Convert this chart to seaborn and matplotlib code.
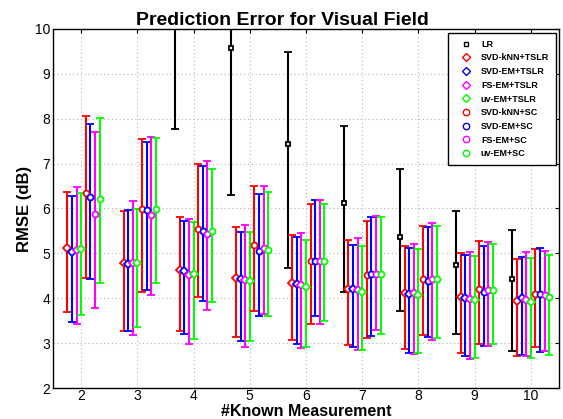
import matplotlib.pyplot as plt
import numpy as np
import seaborn as sns
from matplotlib.lines import Line2D

# x axis: number of known measurements
known = [2, 3, 4, 5, 6, 7, 8, 9, 10]

# LR is off the top of the chart for 2 and 3 known measurements
lr_known = [4, 5, 6, 7, 8, 9, 10]
lr_mean = [11.0, 9.57, 7.43, 6.12, 5.36, 4.73, 4.43]
lr_low = [7.77, 6.31, 4.67, 4.14, 3.72, 3.21, 2.82]
lr_high = [14.2, 12.8, 9.48, 7.83, 6.89, 5.95, 5.52]

svd_knn_tslr_mean = [5.13, 4.78, 4.64, 4.46, 4.34, 4.20, 4.12, 4.02, 3.93]
svd_knn_tslr_low = [3.70, 3.28, 3.27, 3.13, 3.07, 2.96, 2.87, 2.79, 2.72]
svd_knn_tslr_high = [6.37, 5.94, 5.81, 5.59, 5.41, 5.29, 5.16, 5.01, 4.88]

svd_em_tslr_mean = [5.04, 4.76, 4.60, 4.43, 4.32, 4.20, 4.10, 4.01, 4.00]
svd_em_tslr_low = [3.47, 3.26, 3.21, 3.04, 2.99, 2.91, 2.79, 2.72, 2.73]
svd_em_tslr_high = [6.28, 5.96, 5.72, 5.48, 5.36, 5.19, 5.12, 4.97, 4.93]

fs_em_tslr_mean = [5.08, 4.79, 4.52, 4.40, 4.30, 4.18, 4.11, 3.99, 3.96]
fs_em_tslr_low = [3.43, 3.19, 2.97, 2.92, 2.89, 2.84, 2.76, 2.65, 2.71]
fs_em_tslr_high = [6.48, 6.16, 5.77, 5.63, 5.45, 5.34, 5.21, 5.03, 5.03]

uv_em_tslr_mean = [5.09, 4.78, 4.55, 4.39, 4.26, 4.13, 4.07, 3.96, 3.92]
uv_em_tslr_low = [3.63, 3.36, 3.09, 3.04, 2.92, 2.84, 2.77, 2.66, 2.66]
uv_em_tslr_high = [6.34, 5.98, 5.69, 5.48, 5.30, 5.16, 5.10, 4.95, 4.90]

svd_knn_sc_mean = [6.34, 5.99, 5.54, 5.19, 4.82, 4.52, 4.42, 4.21, 4.09]
svd_knn_sc_low = [4.46, 4.13, 4.02, 3.72, 3.42, 3.12, 3.17, 2.97, 2.91]
svd_knn_sc_high = [8.06, 7.54, 7.00, 6.51, 6.09, 5.73, 5.61, 5.27, 5.09]

svd_em_sc_mean = [6.26, 5.96, 5.50, 5.05, 4.84, 4.54, 4.39, 4.15, 4.09]
svd_em_sc_low = [4.44, 4.19, 3.94, 3.60, 3.61, 3.16, 3.14, 2.94, 2.81]
svd_em_sc_high = [7.89, 7.49, 6.94, 6.33, 6.18, 5.80, 5.59, 5.16, 5.11]

fs_em_sc_mean = [5.87, 5.85, 5.44, 5.12, 4.84, 4.55, 4.42, 4.18, 4.07]
fs_em_sc_low = [3.79, 4.08, 3.73, 3.65, 3.42, 3.29, 3.07, 2.94, 2.83]
fs_em_sc_high = [7.71, 7.60, 7.05, 6.50, 6.18, 5.84, 5.68, 5.25, 5.06]

uv_em_sc_mean = [6.22, 5.98, 5.49, 5.07, 4.82, 4.55, 4.42, 4.18, 4.02]
uv_em_sc_low = [4.34, 4.33, 3.91, 3.61, 3.50, 3.21, 3.12, 2.97, 2.74]
uv_em_sc_high = [8.01, 7.57, 6.89, 6.36, 6.11, 5.80, 5.60, 5.22, 4.96]

sns.set_theme(style="white")
plt.rcParams["font.family"] = ["Liberation Sans", "DejaVu Sans"]
plt.rcParams.update({"text.color": "black", "axes.labelcolor": "black",
                     "xtick.color": "black", "ytick.color": "black"})

fig = plt.figure(figsize=(5.63, 4.19), dpi=100)
ax = fig.add_axes([53 / 563, 1 - 388 / 419, 506 / 563, 359 / 419])

step = 0.082
# (label, mean, low, high, colour, marker, slot in group)
methods = [
    ("SVD-kNN+TSLR", svd_knn_tslr_mean, svd_knn_tslr_low, svd_knn_tslr_high, "#ff0000", "D", -3),
    ("SVD-EM+TSLR", svd_em_tslr_mean, svd_em_tslr_low, svd_em_tslr_high, "#0000ff", "D", -2),
    ("FS-EM+TSLR", fs_em_tslr_mean, fs_em_tslr_low, fs_em_tslr_high, "#ff00ff", "D", -1),
    ("uv-EM+TSLR", uv_em_tslr_mean, uv_em_tslr_low, uv_em_tslr_high, "#00ff00", "D", 0),
    ("SVD-kNN+SC", svd_knn_sc_mean, svd_knn_sc_low, svd_knn_sc_high, "#ff0000", "o", 1),
    ("SVD-EM+SC", svd_em_sc_mean, svd_em_sc_low, svd_em_sc_high, "#0000ff", "o", 2),
    ("FS-EM+SC", fs_em_sc_mean, fs_em_sc_low, fs_em_sc_high, "#ff00ff", "o", 3),
    ("uv-EM+SC", uv_em_sc_mean, uv_em_sc_low, uv_em_sc_high, "#00ff00", "o", 4),
]

err_kw = dict(elinewidth=1.5, capsize=3.0, capthick=1.5, mfc="white", mew=1.3, ls="none")

lr_m = np.array(lr_mean)
ax.errorbar(np.array(lr_known) - 4 * step, lr_m,
            yerr=[lr_m - np.array(lr_low), np.array(lr_high) - lr_m],
            marker="s", ms=3.2, color="black", mec="black", **err_kw)

handles = [Line2D([], [], ls="none", marker="s", ms=3.4, mfc="white", mec="black", mew=1.0)]
labels = ["LR"]
for label, mean, low, high, color, marker, slot in methods:
    m = np.array(mean)
    size = 4.3 if marker == "o" else 3.8
    ax.errorbar(np.array(known) + slot * step, m,
                yerr=[m - np.array(low), np.array(high) - m],
                marker=marker, ms=size, color=color, mec=color, **err_kw)
    handles.append(Line2D([], [], ls="none", marker=marker, ms=size + 0.3,
                          mfc="white", mec=color, mew=1.0))
    labels.append(label)

ax.set_xlim(1.5, 10.5)
ax.set_ylim(2, 10)
ax.set_xticks(known)
ax.set_yticks(range(2, 11))
ax.grid(True, linestyle=(0, (1, 2.5)), color="#b5b5b5", linewidth=0.8)
ax.tick_params(direction="in", top=True, right=True, length=3, width=0.8,
               labelsize=10, pad=2)
ax.tick_params(axis="x", pad=1)
for sp in ax.spines.values():
    sp.set_color("black")
    sp.set_linewidth(1.0)

ax.set_xlabel("#Known Measurement", fontsize=11.5, fontweight="bold", labelpad=0.5)
ax.set_ylabel("RMSE (dB)", fontsize=12, fontweight="bold", labelpad=2)
fig.text(282 / 563, 1 - 25 / 419, "Prediction Error for Visual Field",
         fontsize=14, fontweight="bold", ha="center", va="baseline")

leg = ax.legend(handles, labels, loc="upper right",
                bbox_to_anchor=(556 / 563, 1 - 33 / 419), bbox_transform=fig.transFigure,
                prop={"weight": "bold", "size": 6.5},
                frameon=True, fancybox=False, edgecolor="black", framealpha=1,
                handlelength=2.6, handletextpad=0.35, labelspacing=0.52,
                borderpad=0.75, borderaxespad=0)
leg.get_frame().set_linewidth(1.0)

fig.savefig("out.png", dpi=100)
